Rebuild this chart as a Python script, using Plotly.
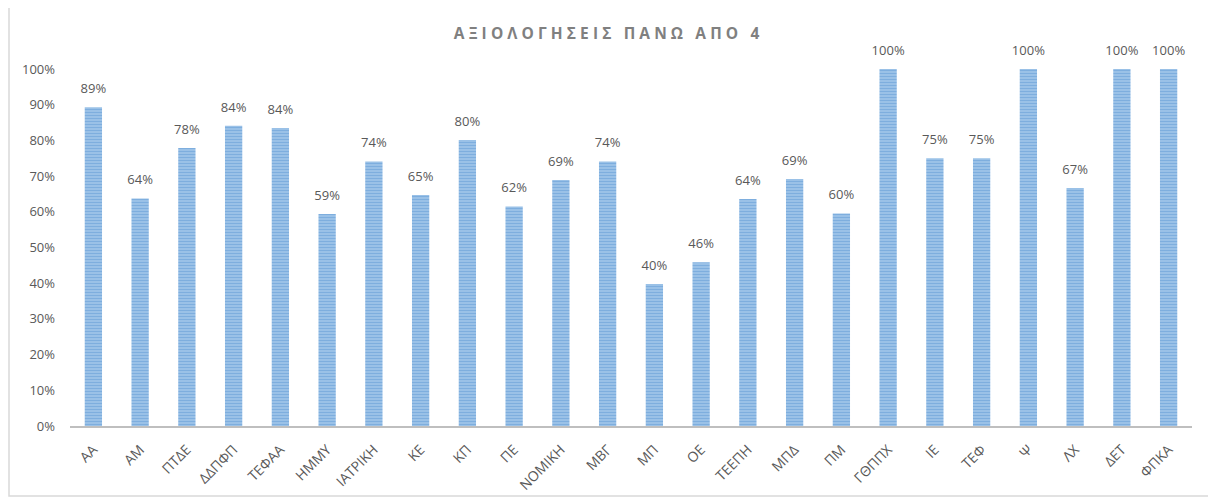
import plotly.graph_objects as go

# Data
schools = ['ΑΑ', 'ΑΜ', 'ΠΤΔΕ', 'ΔΔΠΦΠ', 'ΤΕΦΑΑ', 'ΗΜΜΥ', 'ΙΑΤΡΙΚΗ', 'ΚΕ', 'ΚΠ', 'ΠΕ',
           'ΝΟΜΙΚΗ', 'ΜΒΓ', 'ΜΠ', 'ΟΕ', 'ΤΕΕΠΗ', 'ΜΠΔ', 'ΠΜ', 'ΓΘΠΠΧ', 'ΙΕ', 'ΤΕΦ',
           'Ψ', 'ΛΧ', 'ΔΕΤ', 'ΦΠΚΑ']
share_above_4 = [0.893, 0.637, 0.779, 0.841, 0.835, 0.594, 0.741, 0.647, 0.801, 0.615,
                 0.689, 0.741, 0.398, 0.459, 0.636, 0.692, 0.595, 1.0, 0.75, 0.75,
                 1.0, 0.667, 1.0, 1.0]
y_ticks = [0, 0.1, 0.2, 0.3, 0.4, 0.5, 0.6, 0.7, 0.8, 0.9, 1.0]

# page body has an 8px margin, so the figure is a bit smaller than the window
W, H = 1208, 493
ML, MR, MT, MB = 62, 24, 61, 75

title = '\u2009\u200a'.join('ΑΞΙΟΛΟΓΗΣΕΙΣ ΠΑΝΩ ΑΠΟ 4')

fig = go.Figure()
fig.add_trace(go.Bar(
    x=schools,
    y=share_above_4,
    width=0.37,
    marker=dict(
        color='#a9cbec',
        line=dict(width=0),
        pattern=dict(shape='-', fgcolor='#5795d2', bgcolor='#a4c7ea',
                     size=3, solidity=0.5),
    ),
    hoverinfo='x+y',
))
# value labels sit a little above the bars (invisible marker pushes them up)
fig.add_trace(go.Scatter(
    x=schools,
    y=share_above_4,
    mode='markers+text',
    marker=dict(size=16, color='rgba(0,0,0,0)'),
    text=[f'{v:.0%}' for v in share_above_4],
    textposition='top center',
    textfont=dict(size=13, color='#595959'),
    cliponaxis=False,
    hoverinfo='skip',
))

# outer chart border
pw, ph = W - ML - MR, H - MT - MB
fig.add_shape(type='rect', xref='paper', yref='paper',
              x0=(1 - ML) / pw, x1=(1201 - ML) / pw,
              y0=(H - MB - 488) / ph, y1=(H - MB + 2) / ph,
              line=dict(color='#d9d9d9', width=1.5), layer='below')

fig.update_layout(
    width=W, height=H,
    margin=dict(l=ML, r=MR, t=MT, b=MB),
    paper_bgcolor='white', plot_bgcolor='white',
    font=dict(family='Open Sans, Noto Sans, sans-serif', color='#595959'),
    title=dict(text='<b>' + title + '</b>', x=0.4955, xanchor='center',
               y=1 - 26 / H, yanchor='middle',
               font=dict(size=15.5, color='#808080')),
    showlegend=False,
    bargap=0.63,
)
fig.update_xaxes(range=[-0.5, len(schools) - 0.5], automargin=False,
                 showline=True, linecolor='#bfbfbf', linewidth=2,
                 showgrid=False, tickangle=-45, ticks='',
                 ticklabelstandoff=8,
                 tickfont=dict(size=14, color='#595959'))
fig.update_yaxes(range=[0, 1], tickvals=y_ticks, tickformat='.0%',
                 showgrid=False, zeroline=False, showline=False,
                 ticklabelstandoff=14, automargin=False,
                 tickfont=dict(size=13, color='#595959'))

fig.write_html("out.html")
